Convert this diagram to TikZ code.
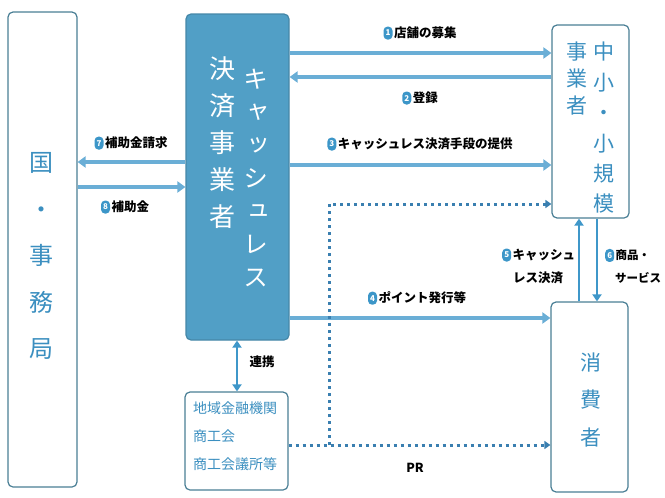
\documentclass[tikz,border=0pt]{standalone}
\usepackage{fontspec}
\setmainfont{Noto Sans CJK JP}
\newfontfamily\vjp{Noto Sans CJK JP}[RawFeature=+vert]
\usetikzlibrary{arrows.meta}
\definecolor{arr}{HTML}{6AAED6}
\definecolor{arrd}{HTML}{3F97C9}
\definecolor{dark}{HTML}{3A7FB0}
\definecolor{boxfill}{HTML}{519FC6}
\definecolor{edge}{HTML}{4A7F95}
\definecolor{txt}{HTML}{3B8FC0}
\definecolor{numc}{HTML}{3C96C8}
\newcommand\cnum[1]{\tikz[baseline=-0.6ex]\node[fill=numc,rounded corners=4pt,inner sep=0pt,minimum width=9pt,minimum height=13pt,text=white,font=\fontsize{8}{8}\selectfont\bfseries]{#1};\hspace{1.5pt}}
\begin{document}
\begin{tikzpicture}[x=1pt,y=-1pt,
  box/.style={draw=edge,line width=1.2pt,rounded corners=5pt,fill=white,inner sep=0pt},
  flow/.style={draw=arr,line width=3.8pt,-{Triangle[length=8pt,width=11pt]}},
  vflow/.style={draw=arrd,line width=2.5pt,-{Triangle[length=7pt,width=9pt]}},
  dflow/.style={draw=dark,line width=3pt,dash pattern=on 3pt off 4pt,-{Triangle[length=6pt,width=8pt]}},
  lab/.style={font=\bfseries\fontsize{12.5}{23}\selectfont,inner sep=0pt},
  vtx/.style={text=txt,align=center,inner sep=0pt}]
\useasboundingbox (0,0) rectangle (665,498);
% boxes
\node[box,minimum width=69pt,minimum height=475pt] (gov) at (42.5,249.5) {};
\node[box,draw=boxfill!85!black,fill=boxfill,minimum width=103pt,minimum height=326pt] (pay) at (237.5,177) {};
\node[box,minimum width=77pt,minimum height=193pt] (sme) at (590.5,121.5) {};
\node[box,minimum width=77pt,minimum height=190pt] (cons) at (589.5,397) {};
\node[box,minimum width=103pt,minimum height=98pt] (reg) at (236.5,441) {};
% box texts
\node[vtx,font=\vjp\fontsize{24}{46.5}\selectfont] (govt) at (42,256) {国\\・\\事\\務\\局};
\node[vtx,text=white,font=\vjp\fontsize{26}{37}\selectfont] (payt1) at (222,143) {決\\済\\事\\業\\者};
\node[vtx,text=white,font=\vjp\fontsize{25}{33}\selectfont] (payt2) at (256,178) {キ\\ャ\\ッ\\シ\\ュ\\レ\\ス};
\node[vtx,font=\vjp\fontsize{21}{30.4}\selectfont] (smet1) at (604,128) {中\\小\\・\\小\\規\\模};
\node[vtx,font=\vjp\fontsize{21}{27}\selectfont] (smet2) at (577,79) {事\\業\\者};
\node[vtx,font=\vjp\fontsize{21}{37.5}\selectfont] (const) at (591,400) {消\\費\\者};
\node[text=txt,align=left,anchor=north west,inner sep=0pt,font=\fontsize{14}{28}\selectfont] (regt) at (193,402) {地域金融機関\\商工会\\商工会議所等};
% row coordinates
\coordinate (r1) at (0,53);
\coordinate (r2) at (0,77);
\coordinate (r3) at (0,165);
\coordinate (rd) at (0,204);
\coordinate (r4) at (0,318);
\coordinate (rp) at (0,445);
\coordinate (rl1) at (0,162);
\coordinate (rl2) at (0,187);
\coordinate (cu) at (579,0);
\coordinate (cd) at (597,0);
\coordinate (cr) at (237,0);
\coordinate (vt) at (329,204);
\coordinate (vb) at (329,445);
% connectors
\draw[flow] (pay.east |- r1) -- (sme.west |- r1);
\draw[flow] (sme.west |- r2) -- (pay.east |- r2);
\draw[flow] (pay.east |- r3) -- (sme.west |- r3);
\draw[flow] (pay.east |- r4) -- (cons.west |- r4);
\draw[flow] (pay.west |- rl1) -- (gov.east |- rl1);
\draw[flow] (gov.east |- rl2) -- (pay.west |- rl2);
\draw[vflow] (cons.north -| cu) -- (sme.south -| cu);
\draw[vflow] (sme.south -| cd) -- (cons.north -| cd);
\draw[draw=arrd,line width=2.5pt,{Triangle[length=7pt,width=9pt]}-{Triangle[length=7pt,width=9pt]}] (pay.south -| cr) -- (reg.north -| cr);
\draw[dflow] (reg.east |- rp) -- (cons.west |- rp);
\draw[dflow] (vb) -- (vt) -- (sme.west |- rd);
% labels
\node[lab] (l1) at (420,33) {\cnum{1}店舗の募集};
\node[lab] (l2) at (420,98) {\cnum{2}登録};
\node[lab] (l3) at (420,144) {\cnum{3}キャッシュレス決済手段の提供};
\node[lab] (l4) at (417,298) {\cnum{4}ポイント発行等};
\node[lab,align=left,anchor=west] (l5) at (502,266) {\cnum{5}キャッシュ\\\hspace{11pt}レス決済};
\node[lab,font=\bfseries\fontsize{11.5}{23}\selectfont,align=left,anchor=west] (l6) at (605,266) {\cnum{6}商品・\\\hspace{10pt}サービス};
\node[lab] (l7) at (131,143) {\cnum{7}補助金請求};
\node[lab] (l8) at (125,207) {\cnum{8}補助金};
\node[lab] (lk) at (262,362) {連携};
\node[lab] (lp) at (415,468) {PR};
\end{tikzpicture}
\end{document}
